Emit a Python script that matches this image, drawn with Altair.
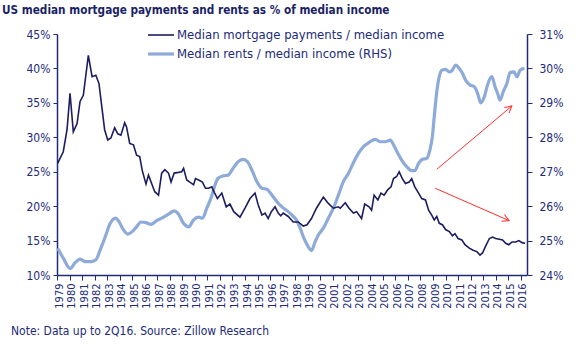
import altair as alt
import pandas as pd

TITLE = "US median mortgage payments and rents as % of median income"
NOTE = "Note: Data up to 2Q16. Source: Zillow Research"
SERIES = ["Median mortgage payments / median income", "Median rents / median income (RHS)"]
YEARS = list(range(1979, 2017))
LEFT_TICKS = [10, 15, 20, 25, 30, 35, 40, 45]
RIGHT_TICKS = [24, 25, 26, 27, 28, 29, 30, 31]

mort_t = [1979.05, 1979.5, 1979.8, 1980.04, 1980.3, 1980.6, 1980.84, 1981.1, 1981.5, 1981.8,
          1982.1, 1982.35, 1982.8, 1983.05, 1983.3, 1983.6, 1983.85, 1984.1, 1984.4, 1984.55,
          1984.8, 1985.1, 1985.35, 1985.6, 1985.8, 1986.1, 1986.3, 1986.55, 1986.8, 1987.1,
          1987.35, 1987.6, 1987.9, 1988.1, 1988.35, 1988.7, 1988.95, 1989.1, 1989.35, 1989.6,
          1989.9, 1990.05, 1990.3, 1990.6, 1990.85, 1991.1, 1991.35, 1991.55, 1991.8, 1992.15,
          1992.5, 1992.8, 1993.1, 1993.6, 1994.0, 1994.4, 1994.8, 1995.05, 1995.35, 1995.6,
          1995.85, 1996.1, 1996.4, 1996.65, 1996.85, 1997.05, 1997.45, 1997.85, 1998.25, 1998.65,
          1998.95, 1999.3, 1999.7, 2000.25, 2000.65, 2001.05, 2001.45, 2001.6, 2002.0, 2002.3,
          2002.65, 2002.9, 2003.3, 2003.55, 2003.9, 2004.1, 2004.3, 2004.6, 2004.85, 2005.1,
          2005.4, 2005.65, 2005.85, 2006.1, 2006.3, 2006.55, 2006.8, 2007.1, 2007.3, 2007.55,
          2007.85, 2008.1, 2008.4, 2008.65, 2008.9, 2009.1, 2009.3, 2009.5, 2009.75, 2010.0,
          2010.3, 2010.55, 2010.75, 2011.0, 2011.3, 2011.55, 2011.9, 2012.2, 2012.5, 2012.75,
          2012.95, 2013.2, 2013.5, 2013.75, 2014.0, 2014.3, 2014.55, 2014.8, 2015.05, 2015.3,
          2015.6, 2015.85, 2016.1, 2016.35]
mort_v = [26.2, 27.9, 31.1, 36.4, 30.8, 32.0, 35.2, 36.1, 41.9, 38.8,
          39.0, 37.8, 31.1, 29.6, 29.9, 31.4, 30.5, 30.3, 32.1, 31.5,
          29.1, 28.9, 27.4, 27.2, 25.2, 23.2, 24.5, 23.3, 22.1, 21.6,
          24.8, 25.3, 24.8, 23.5, 24.8, 24.9, 25.0, 25.5, 23.8, 23.5,
          23.1, 24.0, 23.8, 23.5, 22.6, 22.6, 22.8, 22.0, 21.1, 21.9,
          19.9, 20.3, 19.2, 18.4, 19.7, 21.1, 21.9, 20.2, 18.7, 19.0,
          18.2, 19.2, 19.9, 19.0, 18.6, 19.0, 18.5, 17.7, 17.7, 17.1,
          17.3, 18.2, 19.7, 21.3, 20.4, 19.7, 19.9, 19.7, 20.5, 19.7,
          19.0, 19.2, 18.2, 20.3, 19.9, 19.4, 21.6, 20.9, 21.9, 21.6,
          22.4, 22.8, 24.0, 24.3, 25.0, 24.0, 23.3, 23.5, 24.0, 22.8,
          21.9, 21.1, 20.9, 19.4, 18.7, 18.0, 18.5, 17.5, 17.3, 16.6,
          16.3, 15.7, 16.0, 15.3, 15.1, 14.4, 13.9, 13.6, 13.4, 12.9,
          13.2, 14.2, 15.3, 15.5, 15.3, 15.2, 15.1, 14.6, 14.4, 14.8,
          14.8, 15.0, 14.7, 14.6]

rent_t = [1979.05, 1979.5, 1980.04, 1980.45, 1980.85, 1981.25, 1981.75, 1982.1, 1982.45, 1982.85,
          1983.25, 1983.65, 1983.95, 1984.3, 1984.65, 1985.0, 1985.35, 1985.7, 1986.1, 1986.5,
          1986.95, 1987.35, 1987.9, 1988.35, 1988.65, 1989.1, 1989.5, 1989.9, 1990.3, 1990.6,
          1990.95, 1991.3, 1991.55, 1991.85, 1992.25, 1992.65, 1993.05, 1993.45, 1993.85, 1994.2,
          1994.55, 1994.95, 1995.35, 1995.75, 1996.15, 1996.55, 1996.95, 1997.35, 1997.75, 1998.1,
          1998.4, 1998.7, 1999.05, 1999.3, 1999.6, 1999.85, 2000.25, 2000.65, 2001.05, 2001.45,
          2001.85, 2002.25, 2002.65, 2003.05, 2003.45, 2003.9, 2004.4, 2004.8, 2005.2, 2005.6,
          2005.85, 2006.2, 2006.5, 2006.9, 2007.3, 2007.55, 2007.85, 2008.15, 2008.5, 2008.75,
          2008.95, 2009.1, 2009.3, 2009.5, 2009.7, 2010.0, 2010.3, 2010.55, 2010.8, 2011.1,
          2011.35, 2011.6, 2011.95, 2012.3, 2012.6, 2012.8, 2013.1, 2013.35, 2013.7, 2013.95,
          2014.15, 2014.35, 2014.6, 2014.9, 2015.15, 2015.45, 2015.7, 2015.95, 2016.3]
rent_v = [24.78, 24.49, 24.19, 24.36, 24.46, 24.39, 24.39, 24.44, 24.73, 25.11,
          25.50, 25.65, 25.55, 25.31, 25.19, 25.26, 25.40, 25.54, 25.52, 25.47,
          25.58, 25.65, 25.77, 25.86, 25.79, 25.50, 25.40, 25.60, 25.68, 25.65,
          25.94, 26.25, 26.55, 26.81, 26.88, 26.90, 27.10, 27.29, 27.36, 27.29,
          27.05, 26.71, 26.52, 26.49, 26.32, 26.13, 25.98, 25.87, 25.74, 25.60,
          25.36, 25.07, 24.82, 24.71, 24.97, 25.16, 25.36, 25.65, 25.94, 26.32,
          26.71, 26.95, 27.26, 27.53, 27.73, 27.85, 27.94, 27.87, 27.87, 27.92,
          27.78, 27.53, 27.34, 27.15, 27.03, 27.03, 27.24, 27.36, 27.39, 27.63,
          28.02, 28.60, 29.32, 29.76, 29.95, 29.97, 29.90, 29.95, 30.10, 30.00,
          29.86, 29.66, 29.52, 29.47, 29.23, 29.00, 29.18, 29.52, 29.76, 29.47,
          29.28, 29.08, 29.32, 29.57, 29.88, 29.90, 29.76, 29.95, 30.00]

# red annotation arrows (left-axis units)
arrow_t0 = [2009.3, 2009.17]
arrow_v0 = [25.35, 22.6]
arrow_t1 = [2015.29, 2015.07]
arrow_v1 = [34.54, 17.9]
arrow_ang = [320, 23.6]

NAVY = "#222a78"
DARK = "#1c1d5e"
LIGHT = "#8eaad9"
RED = "#ff2e2e"
FONT = "DejaVu Sans Condensed, Liberation Sans, sans-serif"

x_scale = alt.Scale(domain=[1979, 2016.5], nice=False, zero=False)
x_axis = alt.Axis(values=YEARS, format="d", labelAngle=-90, labelAlign="right",
                  labelBaseline="middle", labelOverlap=False, labelFlush=False,
                  labelOffset=2, labelPadding=3, labelFont=FONT, labelFontSize=11,
                  labelColor=NAVY, tickColor=NAVY, tickSize=5, domainColor=NAVY,
                  domainWidth=1.5, grid=False, title=None)
left_scale = alt.Scale(domain=[10, 45], nice=False, zero=False)
left_axis = alt.Axis(orient="left", values=LEFT_TICKS, labelExpr="datum.value + '%'",
                     labelOverlap=False, labelFlush=False,
                     labelFont=FONT, labelFontSize=12, labelColor=NAVY, labelPadding=3,
                     tickColor=NAVY, tickSize=4, domainColor=NAVY, domainWidth=1.5,
                     grid=False, title=None)
right_scale = alt.Scale(domain=[24, 31], nice=False, zero=False)
right_axis = alt.Axis(orient="right", values=RIGHT_TICKS, labelExpr="datum.value + '%'",
                      labelOverlap=False, labelFlush=False,
                      labelFont=FONT, labelFontSize=12, labelColor=NAVY, labelPadding=7,
                      tickColor=NAVY, tickSize=5, domainColor=NAVY, domainWidth=1.5,
                      grid=False, title=None)

mort_df = pd.DataFrame({"t": mort_t, "v": mort_v})
rent_df = pd.DataFrame({"t": rent_t, "v": rent_v})
arrow_df = pd.DataFrame({"t0": arrow_t0, "v0": arrow_v0, "t1": arrow_t1, "v1": arrow_v1,
                         "ang": arrow_ang})

rent_line = alt.Chart(rent_df).mark_line(color=LIGHT, strokeWidth=3.2, interpolate="monotone").encode(
    x=alt.X("t:Q", scale=x_scale, axis=x_axis),
    y=alt.Y("v:Q", scale=right_scale, axis=right_axis),
)

mort_line = alt.Chart(mort_df).mark_line(color=DARK, strokeWidth=1.6).encode(
    x=alt.X("t:Q", scale=x_scale, axis=x_axis),
    y=alt.Y("v:Q", scale=left_scale, axis=left_axis),
)
arrows = alt.Chart(arrow_df).mark_rule(color=RED, strokeWidth=1).encode(
    x=alt.X("t0:Q", scale=x_scale, axis=x_axis),
    y=alt.Y("v0:Q", scale=left_scale, axis=left_axis),
    x2="t1:Q", y2="v1:Q")
heads = alt.Chart(arrow_df).mark_point(shape="M-1,-0.55L0,0L-1,0.55", filled=False,
                                       color=RED, size=180, strokeWidth=1, opacity=1).encode(
    x=alt.X("t1:Q", scale=x_scale, axis=x_axis),
    y=alt.Y("v1:Q", scale=left_scale, axis=left_axis),
    angle=alt.Angle("ang:Q", scale=None))
left_group = alt.layer(mort_line, arrows, heads)

leg_df = pd.DataFrame({"label": SERIES})
leg1_line = alt.Chart(leg_df.iloc[[0]]).mark_rule(color=DARK, strokeWidth=1.6).encode(
    x=alt.value(91), x2=alt.value(117), y=alt.value(1))
leg2_line = alt.Chart(leg_df.iloc[[1]]).mark_rule(color=LIGHT, strokeWidth=3.2).encode(
    x=alt.value(91), x2=alt.value(117), y=alt.value(20))
leg1_text = alt.Chart(leg_df.iloc[[0]]).mark_text(align="left", baseline="middle", font=FONT,
                                                  fontSize=13, color=NAVY).encode(
    text="label:N", x=alt.value(120), y=alt.value(1))
leg2_text = alt.Chart(leg_df.iloc[[1]]).mark_text(align="left", baseline="middle", font=FONT,
                                                  fontSize=13, color=NAVY).encode(
    text="label:N", x=alt.value(120), y=alt.value(20))

title = alt.Chart(pd.DataFrame({"s": [TITLE]})).mark_text(
    align="left", baseline="alphabetic", font=FONT, fontSize=11.7, fontWeight="bold",
    color="#1a1f66").encode(text="s:N", x=alt.value(-55), y=alt.value(-20))
note = alt.Chart(pd.DataFrame({"s": [NOTE]})).mark_text(
    align="left", baseline="alphabetic", font=FONT, fontSize=12, color=NAVY).encode(
    text="s:N", x=alt.value(-46), y=alt.value(301))

chart = alt.layer(rent_line, left_group, leg1_line, leg2_line, leg1_text, leg2_text,
                  title, note).resolve_scale(y="independent").properties(
    width=470, height=241,
    autosize=alt.AutoSizeParams(type="none"),
    padding={"left": 57, "top": 34, "right": 57, "bottom": 77},
    background="white",
).configure_view(stroke=None)

chart.save("out.html", embed_options={"renderer": "svg", "actions": False})
